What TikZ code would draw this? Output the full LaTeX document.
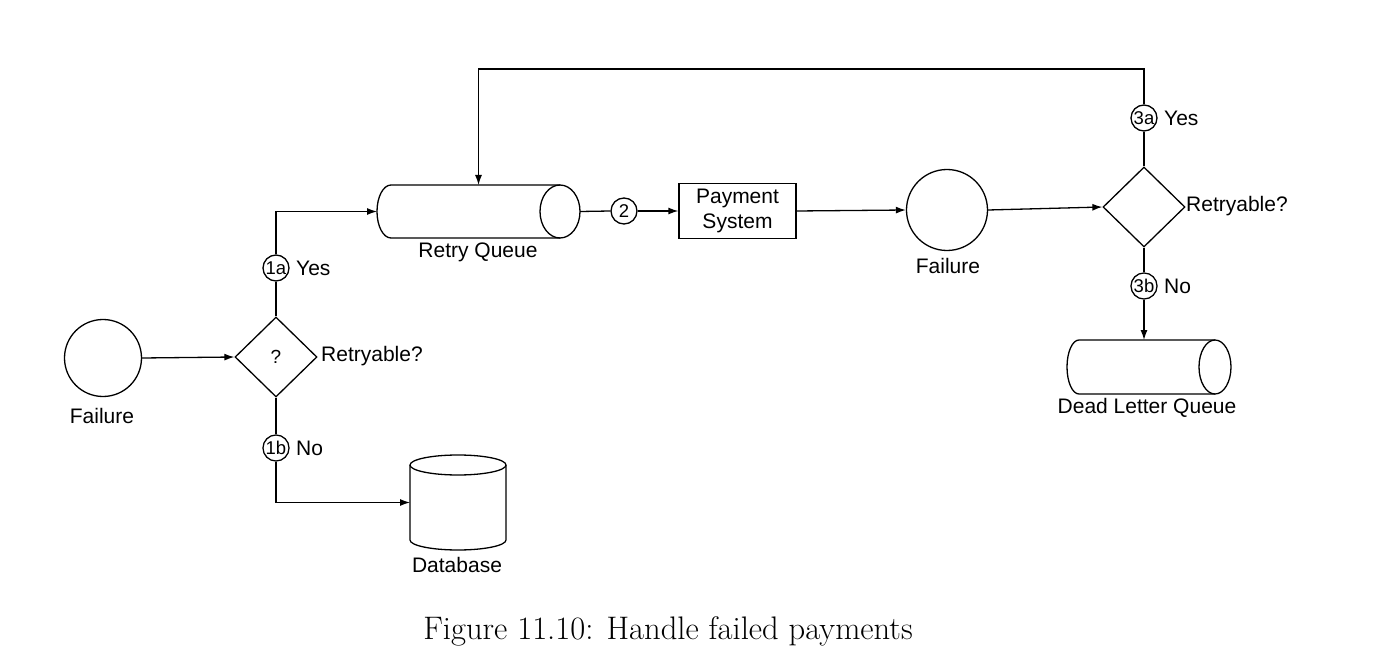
\documentclass[tikz,border=0pt]{standalone}
\usepackage{fontspec}
\setsansfont{Liberation Sans}
\usetikzlibrary{shapes.geometric,arrows.meta}
\begin{document}
\begin{tikzpicture}[x=1pt,y=-1pt,
  lbl/.style={font=\sffamily\fontsize{21}{25}\selectfont, inner sep=0},
  num/.style={circle, draw, line width=1.3pt, minimum size=26pt, inner sep=0.5pt, font=\sffamily\fontsize{18.5}{20}\selectfont},
  arr/.style={line width=1.3pt, -{Latex[length=10pt,width=7pt]}},
  ln/.style={line width=1.3pt},
  bigcirc/.style={circle, draw, line width=1.3pt, inner sep=0},
  dia/.style={diamond, draw, line width=1.3pt, minimum width=82pt, minimum height=80pt, inner sep=0, font=\sffamily\fontsize{19}{21}\selectfont},
  anchorbox/.style={inner sep=0, outer sep=0}
]
\useasboundingbox (0,0) rectangle (1393,671);

% left failure and first decision
\node[bigcirc, minimum size=77pt] (f1) at (103,358) {};
\node[lbl] (f1l) at (102,416) {Failure};
\node[dia] (d1) at (276,357) {?};
\node[lbl, anchor=west] (d1l) at (321,356) {Retryable?};
\node[num] (c1a) at (276,268) {1a};
\node[lbl, anchor=west] (yes1) at (296,268) {Yes};
\node[num] (c1b) at (276,448) {1b};
\node[lbl, anchor=west] (no1) at (296,448) {No};

% retry queue
\node[anchorbox, minimum width=203pt, minimum height=53pt] (rq) at (478.5,211.5) {};
\draw[ln] (560,185) -- (391,185) arc[start angle=90, end angle=270, x radius=14pt, y radius=26.5pt] -- (560,238);
\draw[ln] (560,211.5) ellipse [x radius=20pt, y radius=26.5pt];
\node[lbl] (rql) at (478,252) {Retry Queue};

% database
\node[anchorbox, minimum width=96pt, minimum height=95pt] (db) at (458,502.5) {};
\draw[ln] (458,465) ellipse [x radius=48pt, y radius=10pt];
\draw[ln] (410,465) -- (410,540) arc[start angle=180, end angle=360, x radius=48pt, y radius=10pt] -- (506,465);
\node[lbl] (dbl) at (457,565) {Database};

% payment
\node[num] (c2) at (624,211) {2};
\node[draw, line width=1.3pt, minimum width=117pt, minimum height=55pt, inner sep=0, align=center,
      font=\sffamily\fontsize{21}{25}\selectfont] (pay) at (737.5,211) {Payment\\System};

% second failure and decision
\node[bigcirc, minimum size=81pt] (f2) at (947,210) {};
\node[lbl] (f2l) at (948,266) {Failure};
\node[dia] (d3) at (1144,207) {};
\node[lbl, anchor=west] (d3l) at (1186,206) {Retryable?};
\node[num] (c3a) at (1144,118) {3a};
\node[lbl, anchor=west] (yes3) at (1164,118) {Yes};
\node[num] (c3b) at (1144,286) {3b};
\node[lbl, anchor=west] (no3) at (1164,286) {No};

% dead letter queue
\node[anchorbox, minimum width=164pt, minimum height=54pt] (dlq) at (1149,367) {};
\draw[ln] (1215,340) -- (1079,340) arc[start angle=90, end angle=270, x radius=12pt, y radius=27pt] -- (1215,394);
\draw[ln] (1215,367) ellipse [x radius=16pt, y radius=27pt];
\node[lbl] (dlql) at (1147,408) {Dead Letter Queue};

\coordinate (tl) at (478.5,69);

% connectors
\draw[arr] (f1.east) -- (d1.west);
\draw[ln] (d1.north) -- (c1a.south);
\draw[arr] (c1a.north) |- (rq.west);
\draw[ln] (d1.south) -- (c1b.north);
\draw[arr] (c1b.south) |- (db.west);
\draw[ln] (rq.east) -- (c2.west);
\draw[arr] (c2.east) -- (pay.west);
\draw[arr] (pay.east) -- (f2.west);
\draw[arr] (f2.east) -- (d3.west);
\draw[ln] (d3.north) -- (c3a.south);
\draw[arr] (c3a.north) |- (tl) -- (rq.north);
\draw[ln] (d3.south) -- (c3b.north);
\draw[arr] (c3b.south) -- (c3b.south |- dlq.north);

% caption
\node[font=\rmfamily\fontsize{32.6}{38}\selectfont, inner sep=0] (cap) at (668,631) {Figure 11.10: Handle failed payments};
\end{tikzpicture}
\end{document}
